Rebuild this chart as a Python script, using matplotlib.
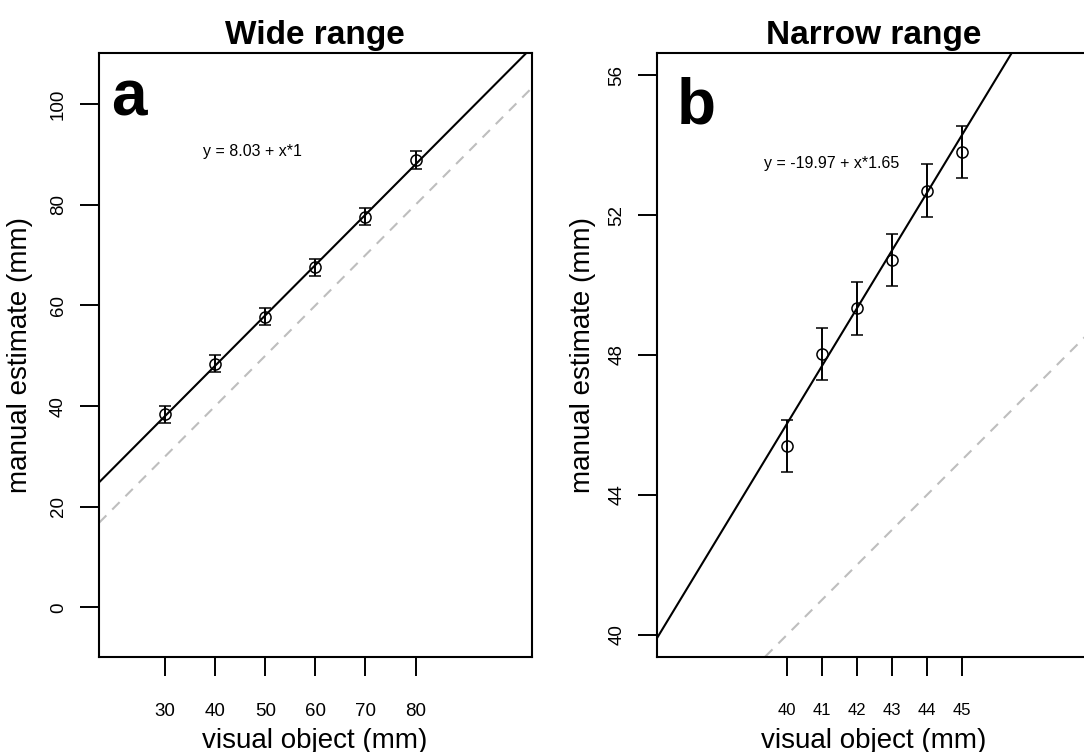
import matplotlib
matplotlib.use("Agg")
import matplotlib.pyplot as plt

plt.rcParams['font.family'] = ['Liberation Sans', 'DejaVu Sans']

# wide range condition
wide_x = [30, 40, 50, 60, 70, 80]
wide_y = [38.4, 48.4, 57.8, 67.6, 77.6, 88.9]
wide_err = [1.7, 1.7, 1.7, 1.7, 1.7, 1.7]
wide_fit = (8.03, 1.0)
wide_yticks = [0, 20, 40, 60, 80, 100]

# narrow range condition
narrow_x = [40, 41, 42, 43, 44, 45]
narrow_y = [45.4, 48.03, 49.33, 50.71, 52.7, 53.8]
narrow_err = [0.75, 0.75, 0.75, 0.75, 0.75, 0.75]
narrow_fit = (-19.97, 1.65)
narrow_yticks = [40, 44, 48, 52, 56]

W, H = 1084, 752
fig = plt.figure(figsize=(W / 100, H / 100), dpi=100)


def px(x, y):
    return x / W, 1 - y / H


def panel(rect, xs, ys, errs, fit, yticks, xlim, ylim, title, letter,
          letter_pos, eq_pos, xtick_size):
    ax = fig.add_axes(rect)
    b, m = fit
    ax.axline((0, 0), slope=1, color='#bebebe', lw=1.5, ls=(0, (5, 4)))
    ax.axline((0, b), slope=m, color='black', lw=1.5)
    ax.errorbar(xs, ys, yerr=errs, fmt='o', mfc='none', mec='black',
                mew=1.1, ms=8, ecolor='black', elinewidth=1.4,
                capsize=4.3, capthick=1.4)
    ax.set_xlim(*xlim)
    ax.set_ylim(*ylim)
    ax.set_xticks(xs)
    ax.set_yticks(yticks)
    ax.set_yticklabels([str(t) for t in yticks], rotation=90, va='center')
    ax.tick_params(axis='both', direction='out', length=14, width=1.4)
    ax.tick_params(axis='y', labelsize=13.5, pad=9)
    ax.tick_params(axis='x', labelsize=xtick_size, pad=19)
    for s in ax.spines.values():
        s.set_linewidth(1.5)
    ax.set_title(title, fontsize=24, fontweight='bold', pad=7)
    ax.text(letter_pos[0], letter_pos[1], letter, transform=ax.transAxes,
            fontsize=46, fontweight='bold', ha='center', va='baseline')
    sign = '-' if b < 0 else ''
    eq = 'y = %s%.2f + x*%s' % (sign, abs(b), ('%.2f' % m).rstrip('0').rstrip('.'))
    ax.text(eq_pos[0], eq_pos[1], eq, transform=ax.transAxes,
            fontsize=11.5, ha='center', va='center')
    return ax


ax1 = panel([99 / W, 1 - 656.7 / H, 432.7 / W, 603.4 / H],
            wide_x, wide_y, wide_err, wide_fit, wide_yticks,
            (16.8, 103.2), (-9.8, 110.1), 'Wide range', 'a',
            (0.069, 0.897), (0.354, 0.838), 13.5)
ax2 = panel([657.3 / W, 1 - 656.7 / H, 432.7 / W, 603.4 / H],
            narrow_x, narrow_y, narrow_err, narrow_fit, narrow_yticks,
            (36.3, 48.66), (39.38, 56.62), 'Narrow range', 'b',
            (0.089, 0.884), (0.404, 0.818), 12)

fig.text(*px(315, 748), 'visual object (mm)', fontsize=20,
         ha='center', va='baseline')
fig.text(*px(874, 748), 'visual object (mm)', fontsize=20,
         ha='center', va='baseline')
fig.text(*px(20, 355), 'manual estimate (mm)', fontsize=20,
         ha='center', va='center', rotation=90)
fig.text(*px(582.5, 355), 'manual estimate (mm)', fontsize=20,
         ha='center', va='center', rotation=90)

fig.savefig('out.png', dpi=100)
